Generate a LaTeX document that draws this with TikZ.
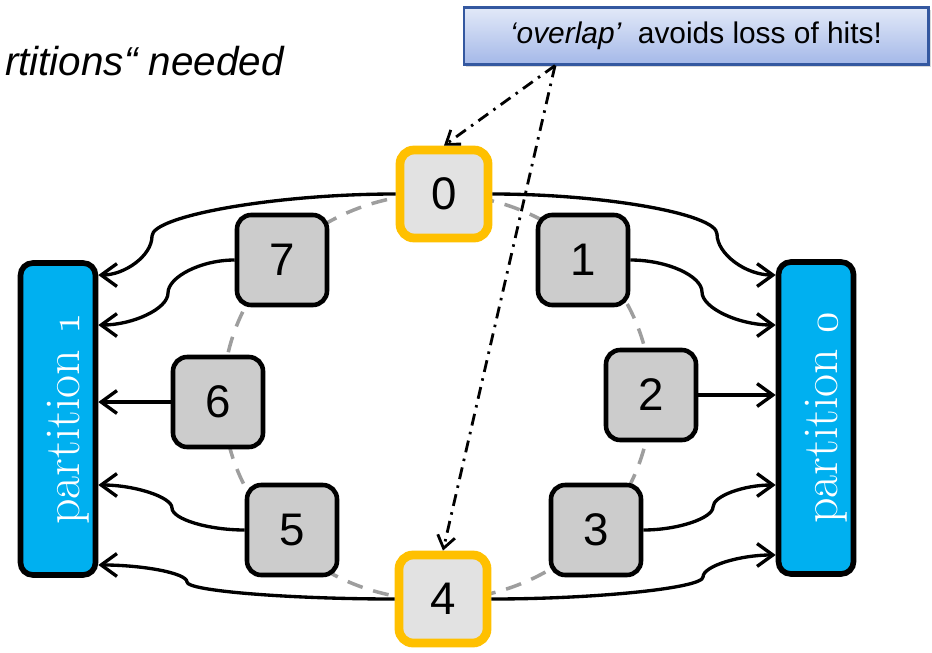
\documentclass[tikz,border=0pt]{standalone}
\usepackage{fontspec}
\usepackage{tikz}
\newfontfamily\arial{Liberation Sans}
\definecolor{partblue}{RGB}{0,176,240}
\definecolor{seedorange}{RGB}{255,192,0}
\definecolor{slicegray}{RGB}{204,204,204}
\definecolor{seedgray}{RGB}{226,226,226}
\definecolor{notetop}{RGB}{226,233,248}
\definecolor{notebottom}{RGB}{164,184,232}
\definecolor{noteedge}{RGB}{52,88,160}
\definecolor{ringgray}{RGB}{158,158,158}
\usetikzlibrary{arrows.meta,positioning,calc,shadows}

\tikzset{
  slice/.style={draw=black, line width=2.6pt, fill=slicegray, rounded corners=8pt, minimum size=1.8cm, inner sep=0pt, font=\arial\fontsize{26}{30}\selectfont},
  seed/.style={slice, draw=seedorange, line width=5pt, fill=seedgray, minimum size=1.76cm, drop shadow={opacity=0.25, shadow xshift=0.8pt, shadow yshift=-1pt}},
  part/.style={draw=black, line width=3.2pt, fill=partblue, rounded corners=7pt, minimum width=1.5cm, minimum height=6.24cm},
  parttext/.style={rotate=90, text=white, inner sep=0pt, font=\fontsize{28.5}{32}\selectfont},
  feed/.style={line width=1.9pt, -{Straight Barb[length=9pt,width=13pt]}},
  ring/.style={ringgray, line width=2pt, dash pattern=on 0.32cm off 0.22cm},
  hint/.style={line width=1.6pt, dash pattern=on 0.24cm off 0.13cm on 0.05cm off 0.13cm, -{Straight Barb[length=7pt,width=10pt]}},
}

\begin{document}
\begin{tikzpicture}[x=0.02cm, y=-0.02cm]
  \useasboundingbox (0,0) rectangle (932,652);

  % ring of slices
  \draw[ring] (437,397) ellipse [x radius=4.28cm, y radius=4.06cm];

  \node[seed] (n0) at (444,194) {0};
  \node[slice] (n1) at (583,260) {1};
  \node[slice] (n2) at (651,395) {2};
  \node[slice] (n3) at (596,530) {3};
  \node[seed] (n4) at (443,599) {4};
  \node[slice] (n5) at (292,530) {5};
  \node[slice] (n6) at (218,402) {6};
  \node[slice] (n7) at (282,260) {7};

  % partitions
  \node[part] (p1) at (58,419) {};
  \node[part] (p0) at (816,418) {};
  \node[parttext] (p1text) at ([xshift=0.2cm]p1.center) {partition $\mathnormal{1}$};
  \node[parttext] (p0text) at ([xshift=0.2cm]p0.center) {partition $\mathnormal{0}$};

  % slices to partition 1
  \draw[feed] (n0.west) .. controls +(-121,0) and +(0,-20) .. (152,236) .. controls +(0,20) and +(26,0) .. ([yshift=2.88cm]p1.east);
  \draw[feed] (n7.west) .. controls +(-34,0) and +(0,-16) .. (168,293) .. controls +(0,16) and +(34,0) .. ([yshift=1.88cm]p1.east);
  \draw[feed] (n6.west) -- (n6.west -| p1.east);
  \draw[feed] (n5.west) .. controls +(-37,0) and +(0,11) .. (172,508) .. controls +(0,-11) and +(36,0) .. ([yshift=-1.32cm]p1.east);
  \draw[feed] (n4.west) .. controls +(-104,0) and +(0,9) .. (187,582) .. controls +(0,-9) and +(44,0) .. ([yshift=-2.92cm]p1.east);

  % slices to partition 0
  \draw[feed] (n0.east) .. controls +(112,0) and +(0,-20) .. (717,234) .. controls +(0,20) and +(-30,0) .. ([yshift=2.86cm]p0.west);
  \draw[feed] (n1.east) .. controls +(37,0) and +(0,-16) .. (702,292) .. controls +(0,16) and +(-37,0) .. ([yshift=1.86cm]p0.west);
  \draw[feed] (n2.east) -- (n2.east -| p0.west);
  \draw[feed] (n3.east) .. controls +(35,0) and +(0,11) .. (713,507) .. controls +(0,-11) and +(-32,0) .. ([yshift=-1.34cm]p0.west);
  \draw[feed] (n4.east) .. controls +(105,0) and +(0,11) .. (703,577) .. controls +(0,-11) and +(-36,0) .. ([yshift=-2.74cm]p0.west);

  % note on overlap
  \node[draw=noteedge, line width=1.2pt, top color=notetop, bottom color=notebottom, minimum width=9.3cm, minimum height=1.14cm, font=\arial\fontsize{17}{20}\selectfont, drop shadow={opacity=0.3, shadow xshift=1.2pt, shadow yshift=-1.5pt}] (note) at (696,36) {{\itshape ‘overlap’}\ \ avoids loss of hits!};
  \coordinate (fork) at ([xshift=-2.82cm]note.south);
  \draw[hint] (fork) -- (n0.north);
  \draw[hint] (fork) -- (n4.north);

  \node[anchor=base east, inner sep=0pt, font=\arial\itshape\fontsize{23}{27}\selectfont] (title) at (284,75) {rtitions“ needed};
\end{tikzpicture}
\end{document}
